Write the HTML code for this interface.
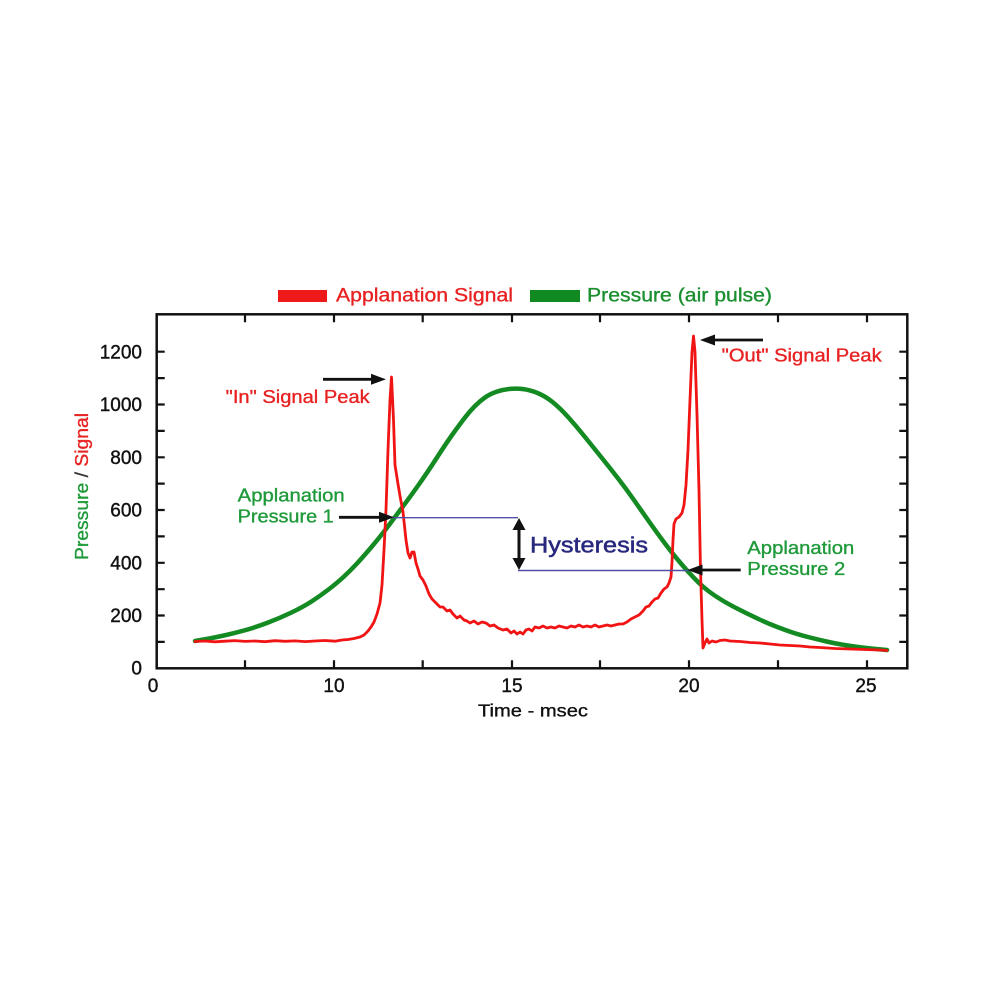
<!DOCTYPE html>
<html><head><meta charset="utf-8"><style>
html,body{margin:0;padding:0;background:#fff;}
svg{display:block;font-family:"Liberation Sans",Arial,sans-serif;}
</style></head><body>
<svg width="1000" height="1000" viewBox="0 0 1000 1000" xmlns="http://www.w3.org/2000/svg">
<rect width="1000" height="1000" fill="#fff"/>
<!-- legend -->
<rect x="278" y="290" width="49" height="12" fill="#ee1a1a"/>
<text x="336" y="301.5" font-size="19" fill="#e82222" stroke="#e82222" stroke-width="0.35" textLength="177" lengthAdjust="spacingAndGlyphs">Applanation Signal</text>
<rect x="530" y="290" width="50" height="12" fill="#118a22"/>
<text x="587" y="301.5" font-size="19" fill="#1a8f30" stroke="#1a8f30" stroke-width="0.35" textLength="185" lengthAdjust="spacingAndGlyphs">Pressure (air pulse)</text>

<!-- axes box -->
<rect x="156.7" y="314.3" width="750.6" height="354" fill="none" stroke="#111" stroke-width="2.5"/>
<g stroke="#111" stroke-width="2.2">
<path d="M156.7 641.9h8M156.7 615.5h8M156.7 589.2h8M156.7 562.8h8M156.7 536.4h8M156.7 510h8M156.7 483.6h8M156.7 457.3h8M156.7 430.9h8M156.7 404.5h8M156.7 378.1h8M156.7 351.7h8"/>
<path d="M907.3 641.9h-8M907.3 615.5h-8M907.3 589.2h-8M907.3 562.8h-8M907.3 536.4h-8M907.3 510h-8M907.3 483.6h-8M907.3 457.3h-8M907.3 430.9h-8M907.3 404.5h-8M907.3 378.1h-8M907.3 351.7h-8"/>
<path d="M245 668.3v-8M334 668.3v-8M422.7 668.3v-8M512 668.3v-8M600 668.3v-8M689 668.3v-8M778 668.3v-8M867 668.3v-8"/>
<path d="M245 314.3v8M334 314.3v8M422.7 314.3v8M512 314.3v8M600 314.3v8M689 314.3v8M778 314.3v8M867 314.3v8"/>
</g>
<!-- y tick labels -->
<g font-size="19" fill="#111" stroke="#111" stroke-width="0.4" text-anchor="end">
<text x="142" y="674.5">0</text>
<text x="142" y="622">200</text>
<text x="142" y="569.3">400</text>
<text x="142" y="516.5">600</text>
<text x="142" y="463.8">800</text>
<text x="142" y="411">1000</text>
<text x="142" y="358.7">1200</text>
</g>
<!-- x tick labels -->
<g font-size="19" fill="#111" stroke="#111" stroke-width="0.4" text-anchor="middle">
<text x="153" y="692">0</text>
<text x="334" y="692">10</text>
<text x="512" y="692">15</text>
<text x="689" y="692">20</text>
<text x="866" y="692">25</text>
</g>
<text x="478" y="716.7" font-size="17.5" fill="#111" stroke="#111" stroke-width="0.35" textLength="110" lengthAdjust="spacingAndGlyphs">Time - msec</text>
<!-- y axis label -->
<text transform="translate(88,560) rotate(-90)" font-size="18" stroke-width="0.35" textLength="147" lengthAdjust="spacingAndGlyphs"><tspan fill="#1f9a3a" stroke="#1f9a3a">Pressure</tspan><tspan fill="#333" stroke="#333"> / </tspan><tspan fill="#e82222" stroke="#e82222">Signal</tspan></text>

<!-- green pressure curve -->
<path fill="none" stroke="#138a22" stroke-width="4.5" stroke-linejoin="round" stroke-linecap="round" d="M195,641 L205,639.25 Q215,637.5 225,635.25 Q235,633 245,630.25 Q255,627.5 267.5,622.75 Q280,618 291.5,612.5 Q303,607 311.5,601.5 Q320,596 328.5,589.5 Q337,583 343.5,577 Q350,571 356.5,564 Q363,557 371.5,547 Q380,537 387.5,527 Q395,517 402.5,507 Q410,497 418.5,485 Q427,473 437,457.5 Q447,442 453.5,433 Q460,424 465,417.5 Q470,411 475,406 Q480,401 485,397.5 Q490,394 496.5,391.75 Q503,389.5 510,388.9 Q517,388.3 523.5,389.15 Q530,390 537.5,393 Q545,396 552.5,402 Q560,408 568.5,417.5 Q577,427 585,437 Q593,447 601.5,457.5 Q610,468 618.5,479 Q627,490 635,501.5 Q643,513 651.5,525 Q660,537 666.5,545.5 Q673,554 678,560 Q683,566 688,571.5 Q693,577 698,582 Q703,587 709,591.5 Q715,596 722.5,600.5 Q730,605 740,610 Q750,615 758.5,619 Q767,623 776,626.5 Q785,630 792.5,632.5 Q800,635 810,637.5 Q820,640 826.5,641.5 Q833,643 841.5,644.5 Q850,646 860,647.25 Q870,648.5 878.5,649.25 L887,650"/>

<!-- red signal curve -->
<polyline fill="none" stroke="#f01414" stroke-width="2.8" stroke-linejoin="round" stroke-linecap="round" points="195,641.5 205,641 215,641.8 225,641.2 235,640.6 245,641.4 255,641 265,641.7 275,640.7 285,641.3 295,640.9 305,641.6 315,641 325,640.5 335,641.2 342,640 348,639.5 354,638.5 360,637 364,635 368,631 371,627 374,622 377,614 380,603 382,585 384,550 386,510 388,450 390,400 391.5,377 393.5,420 395,465 398,484 400,496 403,512 406,540 408,553 410,558 412,552 414,552 416,563 418,569 420,576 423,580 426,586 429,594 432,599 436,603 440,607 443,607 447,611 450,610 453,614 457,618 460,616 464,620 467,621 470,623 474,621 478,624 482,622 486,623 490,626 494,625 498,628 503,630 507,629 511,633 514,631 517,634 520,632 523,634 526,630 529,629 532,631 535,627 539,628 543,626 547,628 551,627 555,628 559,626 563,627 567,628 571,626 575,627 579,625 583,627 587,626 591,627 595,625 599,627 603,626 607,625 611,626 615,625 619,624 623,624 627,622 631,619 635,617 639,615 643,611 646,607 649,606 652,602 655,599 658,598 661,593 664,589 667,587 669,583 671,577 672,562 673,540 674,524 676,519 679,517 682,513 684,505 686,485 688,450 690,400 692,352 693.5,336 695,352 697,415 699,490 700.5,570 702,620 703,648 705,643 707,639 709,643 712,641 716,642 720,640.5 725,640 730,641 740,641.5 750,642.5 760,643 770,644 780,645 790,645.5 800,646 810,647 820,647.5 835,648.5 850,649 865,649.5 880,650 887,650.5"/>

<!-- hysteresis lines -->
<g stroke="#4f4fa6" stroke-width="1.4">
<line x1="390" y1="517.7" x2="518" y2="517.7"/>
<line x1="518" y1="570.5" x2="695" y2="570.5"/>
</g>
<line x1="519" y1="527" x2="519" y2="561" stroke="#111" stroke-width="3"/>
<polygon points="519,518 512.5,530 525.5,530" fill="#111"/>
<polygon points="519,570 512.5,558 525.5,558" fill="#111"/>
<text x="530" y="552.7" font-size="22" fill="#28287f" stroke="#28287f" stroke-width="0.5" textLength="118" lengthAdjust="spacingAndGlyphs">Hysteresis</text>

<!-- In signal peak annotation -->
<line x1="323" y1="379.3" x2="373" y2="379.3" stroke="#111" stroke-width="2.8"/>
<polygon points="386,379.3 371,373.8 371,384.8" fill="#111"/>
<text x="225.7" y="403" font-size="18" fill="#e82222" stroke="#e82222" stroke-width="0.35" textLength="144" lengthAdjust="spacingAndGlyphs">"In" Signal Peak</text>

<!-- Out signal peak annotation -->
<line x1="763" y1="340" x2="713" y2="340" stroke="#111" stroke-width="2.8"/>
<polygon points="700,340 715,334.5 715,345.5" fill="#111"/>
<text x="721.7" y="361.7" font-size="18" fill="#e82222" stroke="#e82222" stroke-width="0.35" textLength="160" lengthAdjust="spacingAndGlyphs">"Out" Signal Peak</text>

<!-- Applanation Pressure 1 -->
<g font-size="18" fill="#1f9a3a" stroke="#1f9a3a" stroke-width="0.35">
<text x="237.7" y="501.7" textLength="107" lengthAdjust="spacingAndGlyphs">Applanation</text>
<text x="237.7" y="522.3" textLength="96" lengthAdjust="spacingAndGlyphs">Pressure 1</text>
<text x="747.3" y="554" textLength="107" lengthAdjust="spacingAndGlyphs">Applanation</text>
<text x="747.3" y="575" textLength="98" lengthAdjust="spacingAndGlyphs">Pressure 2</text>
</g>
<line x1="339" y1="517.3" x2="381" y2="517.3" stroke="#111" stroke-width="2.8"/>
<polygon points="394,517.3 379,511.8 379,522.8" fill="#111"/>

<line x1="740.7" y1="570" x2="700" y2="570" stroke="#111" stroke-width="2.8"/>
<polygon points="687.5,570 702.5,564.5 702.5,575.5" fill="#111"/>
</svg>
</body></html>
